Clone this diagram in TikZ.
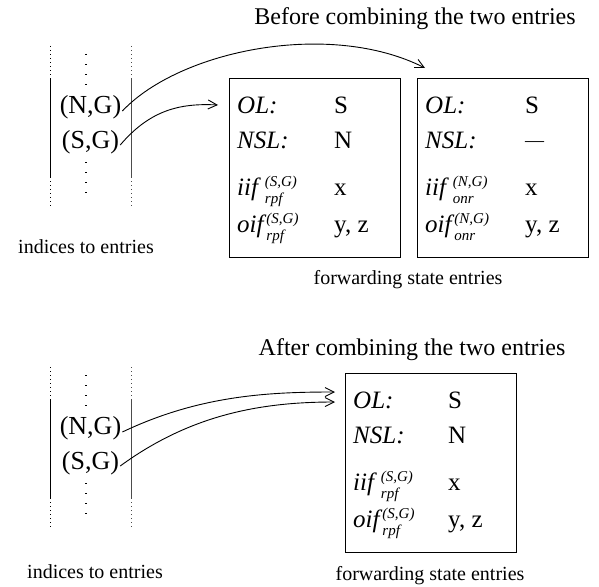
\documentclass[tikz,border=0pt]{standalone}
\usepackage{fontspec}
\setmainfont{Liberation Serif}
\usetikzlibrary{arrows.meta}

\newcommand\fs[1]{\fontsize{#1}{#1}\selectfont}
% stacked superscript / subscript after an interface name
\newcommand\supsub[2]{\begingroup\fs{15}\itshape\rlap{\raisebox{9pt}{#1}}\raisebox{-8.5pt}{#2}\endgroup}

% one forwarding state entry drawn inside box #1
\newcommand\fsentry[8]{%
  \node[entry] (#1-ol)  at ([shift={(8,35)}]#1.north west)  {\textit{OL:}};
  \node[entry] (#1-nsl) at ([shift={(8,70)}]#1.north west)  {\textit{NSL:}};
  \node[entry] (#1-iif) at ([shift={(8,117)}]#1.north west) {\textit{iif}\hspace{4pt}\supsub{#4}{#5}};
  \node[entry] (#1-oif) at ([shift={(8,154)}]#1.north west) {\textit{oif}\supsub{#4}{#5}};
  \node[entry] (#1-olv)  at ([shift={(#8,35)}]#1.north west)  {#2};
  \node[entry] (#1-nslv) at ([shift={(#8,70)}]#1.north west)  {#3};
  \node[entry] (#1-iifv) at ([shift={(#8,117)}]#1.north west) {#6};
  \node[entry] (#1-oifv) at ([shift={(#8,154)}]#1.north west) {#7};
}

\begin{document}
\begin{tikzpicture}[x=1pt,y=-1pt,
  title/.style={font=\fs{24}, anchor=base, inner sep=0pt},
  caption/.style={font=\fs{20}, anchor=base, inner sep=0pt},
  entry/.style={font=\fs{25}, anchor=base west, inner sep=0pt},
  pair/.style={font=\fs{26}, inner sep=1pt},
  fsbox/.style={draw, line width=1.2pt, minimum width=171pt, minimum height=179pt, anchor=north west, inner sep=0pt},
  solidcol/.style={line width=1pt},
  sidedots/.style={line width=0.9pt, dash pattern=on 1pt off 3pt},
  middots/.style={line width=1.4pt, dash pattern=on 1.4pt off 8.6pt},
  link/.style={line width=0.9pt, -{Straight Barb[length=9pt,width=9pt,line width=0.9pt]}}]
\useasboundingbox (0,0) rectangle (599,586);

% ---------------- before combining ----------------
\node[title] (t1) at (415,25) {Before combining the two entries};

% index column
\draw[sidedots] (50,46) -- (50,78) (50,177) -- (50,208);
\draw[solidcol] (50,78) -- (50,177);
\draw[sidedots, black!70] (131,46) -- (131,78) (131,177) -- (131,208);
\draw[solidcol, black!70] (131,78) -- (131,177);
\draw[middots] (86,54) -- (86,86) (86,162) -- (86,194);
\node[pair] (ng1) at (90.5,107) {(N,G)};
\node[pair] (sg1) at (90.5,142) {(S,G)};
\node[caption] (ix1) at (86,253) {indices to entries};

% entry boxes
\node[fsbox] (e1) at (229,78) {};
\node[fsbox] (e2) at (417,78) {};
\fsentry{e1}{S}{N}{(S,G)}{rpf}{x}{y, z}{105}
\fsentry{e2}{S}{{\fs{19}\raisebox{1.5pt}{—}}}{(N,G)}{onr}{x}{y, z}{108}
\node[caption] (fs1) at (408,284) {forwarding state entries};

\coordinate (e1in) at ([shift={(-11,27)}]e1.north west);
\coordinate (e2in) at ([shift={(8,-10)}]e2.north west);
\draw[link] ([yshift=-4]ng1.east) .. controls (180,50) and (330,20) .. (e2in);
\draw[link] ([yshift=-3]sg1.east) .. controls (150,110) and (180,103) .. (e1in);

% ---------------- after combining ----------------
\node[title] (t2) at (412,355) {After combining the two entries};

\draw[sidedots] (50,367) -- (50,399) (50,498) -- (50,529);
\draw[solidcol] (50,399) -- (50,498);
\draw[sidedots, black!70] (131,367) -- (131,399) (131,498) -- (131,529);
\draw[solidcol, black!70] (131,399) -- (131,498);
\draw[middots] (86,375) -- (86,407) (86,483) -- (86,515);
\node[pair] (ng2) at (90.5,428) {(N,G)};
\node[pair] (sg2) at (90.5,463) {(S,G)};
\node[caption] (ix2) at (95,578) {indices to entries};

\node[fsbox] (e3) at (345,373) {};
\fsentry{e3}{S}{N}{(S,G)}{rpf}{x}{y, z}{103}
\node[caption] (fs2) at (430,580) {forwarding state entries};

\coordinate (e3a) at ([shift={(-10,19)}]e3.north west);
\coordinate (e3b) at ([shift={(-10,29)}]e3.north west);
\draw[link] ([yshift=-4]ng2.east) .. controls (200,395) and (270,392) .. (e3a);
\draw[link] ([yshift=-3]sg2.east) .. controls (190,415) and (260,402) .. (e3b);
\end{tikzpicture}
\end{document}
